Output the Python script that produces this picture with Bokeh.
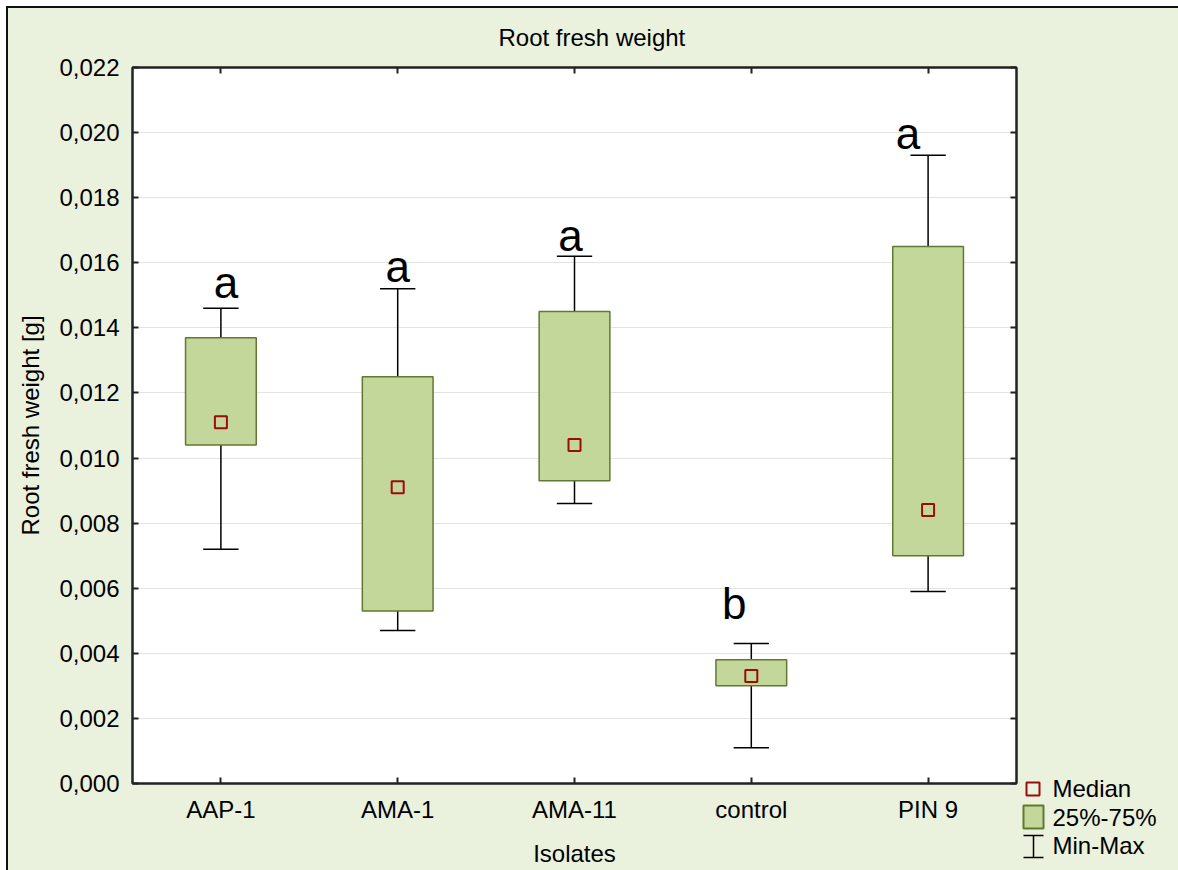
from bokeh.plotting import figure
from bokeh.layouts import row
from bokeh.models import (FactorRange, Range1d, LinearAxis, CategoricalAxis, FixedTicker,
                          CustomJSTickFormatter, ColumnDataSource)
from bokeh.transform import dodge
from bokeh.core.properties import value
from bokeh.embed import file_html
from bokeh.resources import INLINE

# Root fresh weight [g] per isolate: box = 25%-75%, whiskers = min-max
isolates = ["AAP-1", "AMA-1", "AMA-11", "control", "PIN 9"]
minimum = [0.0072, 0.0047, 0.0086, 0.0011, 0.0059]
q1 = [0.0104, 0.0053, 0.0093, 0.0030, 0.0070]
median = [0.0111, 0.0091, 0.0104, 0.0033, 0.0084]
q3 = [0.0137, 0.0125, 0.0145, 0.0038, 0.0165]
maximum = [0.0146, 0.0152, 0.0162, 0.0043, 0.0193]
groups = ["a", "a", "a", "b", "a"]
y_ticks = [0.000, 0.002, 0.004, 0.006, 0.008, 0.010, 0.012, 0.014, 0.016, 0.018, 0.020, 0.022]

# pixel nudges for the significance letters (text is vertically centred on its anchor)
letter_dx = [5, 0, -4, -17, -20]
letter_dy = [-26, -22, -21, -40, -22]

FONT = "Liberation Sans"
BG = "#EAF1DD"
BOX_FILL = "#C4D79B"
BOX_LINE = "#5F7A30"
MEDIAN_LINE = "#9B0D0D"
AXIS = "#222222"

src = ColumnDataSource(dict(isolate=isolates, lo=minimum, q1=q1, med=median, q3=q3,
                            hi=maximum, grp=groups, dx=letter_dx, dy=letter_dy))

x_range = FactorRange(factors=isolates, range_padding=0)
p = figure(width=1012, height=862, x_range=x_range, y_range=Range1d(0, 0.022),
           output_backend="svg", toolbar_location=None, tools="",
           min_border_left=124, min_border_right=4, min_border_top=59, min_border_bottom=87)
p.background_fill_color = "white"
p.border_fill_color = BG
p.outline_line_color = AXIS
p.outline_line_width = 2

p.title.text = "Root fresh weight"
p.title.align = "left"
p.title.vertical_align = "top"
p.title.offset = 366
p.title.standoff = 29
p.title.text_font = FONT
p.title.text_font_size = "24px"
p.title.text_font_style = "normal"
p.title.text_color = "black"

ticker = FixedTicker(ticks=y_ticks)
fmt = CustomJSTickFormatter(code="return tick.toFixed(3).replace('.', ',');")

def style_axis(ax):
    ax.axis_line_color = AXIS
    ax.axis_line_width = 2
    ax.major_tick_line_color = AXIS
    ax.major_tick_line_width = 2
    ax.major_tick_in = 6
    ax.major_tick_out = 0
    ax.minor_tick_line_color = None
    ax.minor_tick_out = 0
    ax.major_label_text_font = FONT
    ax.major_label_text_font_size = "24px"
    ax.major_label_text_color = "black"
    ax.axis_label_text_font = FONT
    ax.axis_label_text_font_size = "24px"
    ax.axis_label_text_font_style = "normal"
    ax.axis_label_text_color = "black"

def hide_labels(ax):
    ax.major_label_text_font_size = "0px"
    ax.major_label_text_alpha = 0
    ax.major_label_standoff = 0

yax = p.yaxis[0]
yax.ticker = ticker
yax.formatter = fmt
yax.axis_label = "Root fresh weight [g]"
style_axis(yax)
yax.major_label_standoff = 13
yax.axis_label_standoff = 12

xax = p.xaxis[0]
xax.axis_label = "Isolates"
style_axis(xax)
xax.major_label_standoff = 12
xax.axis_label_standoff = 14

right = LinearAxis(ticker=FixedTicker(ticks=y_ticks), formatter=fmt)
style_axis(right)
hide_labels(right)
p.add_layout(right, "right")

top = CategoricalAxis()
style_axis(top)
hide_labels(top)
p.add_layout(top, "above")

p.xgrid.grid_line_color = None
p.ygrid.ticker = ticker
p.ygrid.grid_line_color = "#E3E3E3"
p.ygrid.grid_line_width = 1

# whisker stems, boxes, medians, caps
p.segment(x0="isolate", y0="lo", x1="isolate", y1="hi", source=src,
          line_color="black", line_width=1.5)
p.vbar(x="isolate", width=0.4, bottom="q1", top="q3", source=src,
       fill_color=BOX_FILL, line_color=BOX_LINE, line_width=1.5)
p.scatter(x="isolate", y="med", source=src, marker="square", size=12,
          fill_color=None, line_color=MEDIAN_LINE, line_width=2)
for col in ("lo", "hi"):
    p.segment(x0=dodge("isolate", -0.1, range=x_range), y0=col,
              x1=dodge("isolate", 0.1, range=x_range), y1=col, source=src,
              line_color="black", line_width=1.5)

p.text(x=dodge("isolate", 0, range=x_range), y="hi", text="grp", source=src,
       x_offset="dx", y_offset="dy", text_font=value(FONT), text_font_size="44px",
       text_align="center", text_baseline="middle", text_color="black")

# legend panel to the right of the plot, in page pixel coordinates (y downwards)
leg = figure(width=158, height=862, x_range=Range1d(1020, 1178), y_range=Range1d(870, 8),
             x_axis_type=None, y_axis_type=None, min_border=0, frame_align=False,
             output_backend="svg", toolbar_location=None, tools="")
leg.background_fill_color = BG
leg.border_fill_color = BG
leg.outline_line_color = None

leg.quad(left=[1026], right=[1039], top=[782], bottom=[795],
         fill_color=None, line_color=MEDIAN_LINE, line_width=2)
leg.quad(left=[1023], right=[1043], top=[805], bottom=[828],
         fill_color=BOX_FILL, line_color=BOX_LINE, line_width=2)
leg.segment(x0=[1033, 1023, 1023], y0=[835, 835, 857], x1=[1033, 1043, 1043], y1=[857, 835, 857],
            line_color="black", line_width=1.5)
leg.text(x=[1052, 1052, 1052], y=[787.7, 816.7, 844.7], text=["Median", "25%-75%", "Min-Max"],
         text_font=value(FONT), text_font_size="24px", text_align="left",
         text_baseline="middle", text_color="black")

root = row(p, leg, stylesheets=[
    ":host { margin: 6px 0 0 6px !important; border-top: 2px solid #111111 !important;"
    " border-left: 2px solid #111111 !important; background: #EAF1DD !important; }"
])

open("out.html", "w").write(file_html(root, INLINE))
